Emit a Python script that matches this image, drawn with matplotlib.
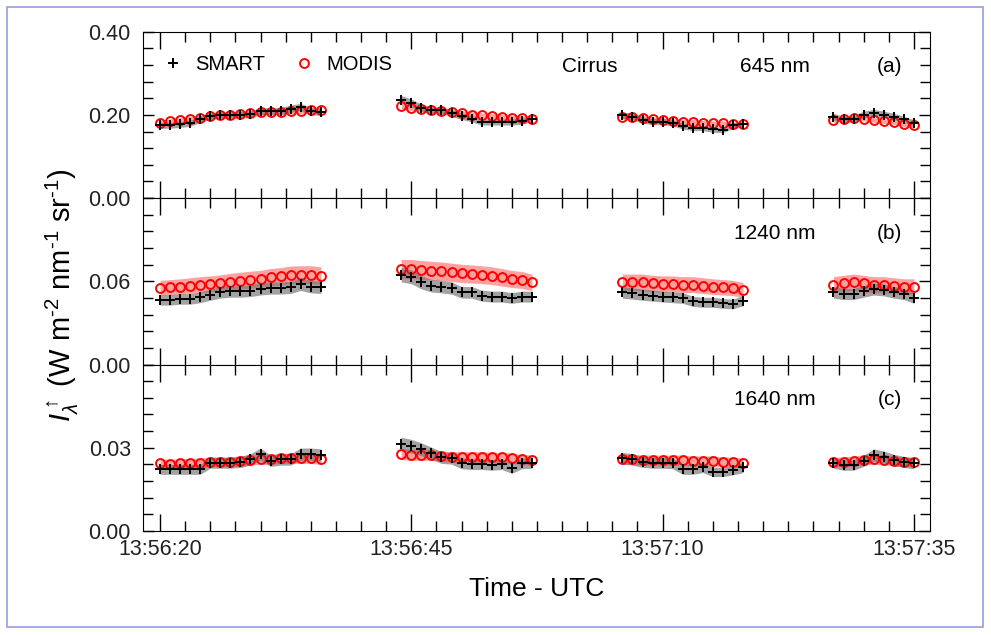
import numpy as np
import matplotlib
matplotlib.use("Agg")
import matplotlib.pyplot as plt
from matplotlib.ticker import MultipleLocator, FuncFormatter
from matplotlib.patches import Rectangle

plt.rcParams['font.family'] = ['Liberation Sans', 'DejaVu Sans']
plt.rcParams['mathtext.fontset'] = 'custom'
plt.rcParams['mathtext.rm'] = 'Liberation Sans'
plt.rcParams['mathtext.it'] = 'Liberation Sans:italic'

# seconds after 13:56:20 UTC, 1 Hz samples in four legs
seg_start = [0, 24, 46, 67]
seg_end = [16, 37, 58, 75]
tick_labels = ['13:56:20', '13:56:45', '13:57:10', '13:57:35']

# 645 nm
smart_a = [
    [0.175, 0.175, 0.177, 0.180, 0.189, 0.197, 0.200, 0.200, 0.200, 0.202, 0.209, 0.209, 0.209, 0.215, 0.219, 0.209, 0.207],
    [0.237, 0.229, 0.217, 0.211, 0.211, 0.205, 0.197, 0.191, 0.183, 0.183, 0.183, 0.183, 0.185, 0.191],
    [0.199, 0.196, 0.188, 0.184, 0.184, 0.181, 0.173, 0.169, 0.169, 0.165, 0.164, 0.175, 0.177],
    [0.196, 0.189, 0.191, 0.201, 0.205, 0.201, 0.196, 0.189, 0.181],
]
modis_a = [
    [0.181, 0.185, 0.188, 0.191, 0.193, 0.197, 0.200, 0.201, 0.203, 0.204, 0.207, 0.208, 0.208, 0.209, 0.209, 0.212, 0.212],
    [0.221, 0.217, 0.215, 0.212, 0.209, 0.207, 0.204, 0.201, 0.199, 0.197, 0.196, 0.193, 0.193, 0.191],
    [0.196, 0.196, 0.193, 0.189, 0.188, 0.185, 0.183, 0.183, 0.181, 0.180, 0.180, 0.177, 0.177],
    [0.188, 0.191, 0.193, 0.191, 0.188, 0.185, 0.183, 0.177, 0.175],
]
# 1240 nm
smart_b = [
    [0.0466, 0.0466, 0.0473, 0.0473, 0.0485, 0.0504, 0.0521, 0.0528, 0.0528, 0.0533, 0.0545, 0.0552, 0.0552, 0.0557, 0.0581, 0.0562, 0.0557],
    [0.0648, 0.0634, 0.0593, 0.0569, 0.0562, 0.0552, 0.0521, 0.0521, 0.0497, 0.0490, 0.0490, 0.0480, 0.0490, 0.0490],
    [0.0521, 0.0513, 0.0504, 0.0497, 0.0490, 0.0485, 0.0480, 0.0456, 0.0449, 0.0449, 0.0441, 0.0437, 0.0461],
    [0.0521, 0.0509, 0.0509, 0.0528, 0.0545, 0.0538, 0.0521, 0.0509, 0.0480],
]
modis_b = [
    [0.0552, 0.0557, 0.0562, 0.0569, 0.0576, 0.0581, 0.0588, 0.0598, 0.0605, 0.0612, 0.0617, 0.0629, 0.0636, 0.0646, 0.0648, 0.0648, 0.0641],
    [0.0689, 0.0689, 0.0682, 0.0677, 0.0672, 0.0665, 0.0657, 0.0653, 0.0648, 0.0641, 0.0629, 0.0617, 0.0610, 0.0593],
    [0.0593, 0.0593, 0.0593, 0.0585, 0.0581, 0.0581, 0.0576, 0.0576, 0.0569, 0.0562, 0.0557, 0.0552, 0.0538],
    [0.0576, 0.0585, 0.0593, 0.0585, 0.0576, 0.0576, 0.0569, 0.0562, 0.0562],
]
# 1640 nm
smart_c = [
    [0.0222, 0.0222, 0.0222, 0.0222, 0.0222, 0.0246, 0.0246, 0.0246, 0.0249, 0.0258, 0.0277, 0.0253, 0.0258, 0.0258, 0.0277, 0.0277, 0.0274],
    [0.0313, 0.0306, 0.0294, 0.0280, 0.0265, 0.0262, 0.0244, 0.0241, 0.0241, 0.0238, 0.0241, 0.0226, 0.0244, 0.0246],
    [0.0262, 0.0258, 0.0249, 0.0246, 0.0246, 0.0244, 0.0222, 0.0222, 0.0229, 0.0213, 0.0213, 0.0220, 0.0229],
    [0.0246, 0.0238, 0.0238, 0.0253, 0.0274, 0.0267, 0.0256, 0.0249, 0.0244],
]
modis_c = [
    [0.0244, 0.0241, 0.0244, 0.0244, 0.0246, 0.0249, 0.0249, 0.0249, 0.0253, 0.0256, 0.0258, 0.0258, 0.0262, 0.0262, 0.0262, 0.0262, 0.0258],
    [0.0277, 0.0274, 0.0274, 0.0274, 0.0270, 0.0267, 0.0267, 0.0267, 0.0267, 0.0265, 0.0265, 0.0262, 0.0258, 0.0256],
    [0.0258, 0.0258, 0.0256, 0.0256, 0.0256, 0.0256, 0.0256, 0.0253, 0.0253, 0.0253, 0.0249, 0.0249, 0.0246],
    [0.0249, 0.0249, 0.0253, 0.0256, 0.0258, 0.0256, 0.0253, 0.0249, 0.0249],
]

# relative uncertainty (fraction) for the shaded bands
smart_unc = [0.04, 0.08, 0.08]
modis_unc = [0.03, 0.10, 0.07]

wavelengths = ['645 nm', '1240 nm', '1640 nm']
panel_tags = ['(a)', '(b)', '(c)']
ylims = [(0, 0.40), (0, 0.12), (0, 0.06)]
yticks = [[0.0, 0.2, 0.4], [0.0, 0.06], [0.0, 0.03]]
ymajor = [0.2, 0.06, 0.03]

panels = [(smart_a, modis_a), (smart_b, modis_b), (smart_c, modis_c)]

fig = plt.figure(figsize=(9.91, 6.35), dpi=100)
left, right = 143.3 / 991, 930 / 991
top, bottom = 1 - 31.7 / 635, 1 - 531 / 635
ph = (top - bottom) / 3

axes = []
for i in range(3):
    ax = fig.add_axes([left, top - (i + 1) * ph, right - left, ph])
    axes.append(ax)
    smart, modis = panels[i]
    for k in range(4):
        t = np.arange(seg_start[k], seg_end[k] + 1)
        s = np.array(smart[k])
        m = np.array(modis[k])
        ax.fill_between(t, m * (1 - modis_unc[i]), m * (1 + modis_unc[i]),
                        color='#ff6f6f', alpha=0.65, lw=0, zorder=1)
        ax.fill_between(t, s * (1 - smart_unc[i]), s * (1 + smart_unc[i]),
                        color='#707070', alpha=0.65, lw=0, zorder=1)
        ax.plot(t, m, 'o', ms=6.4, mfc='none', mec='red', mew=1.4, zorder=3,
                label='MODIS' if k == 0 else None)
        ax.plot(t, s, '+', ms=7.5, color='black', mew=1.4, zorder=4,
                label='SMART' if k == 0 else None)

    ax.set_xlim(-1.66, 76.6)
    ax.set_ylim(*ylims[i])
    ax.set_yticks(yticks[i])
    ax.yaxis.set_minor_locator(MultipleLocator(ymajor[i] / 5))
    ax.yaxis.set_major_formatter(FuncFormatter(lambda v, p: f'{v:.2f}'))
    ax.xaxis.set_major_locator(MultipleLocator(25))
    ax.xaxis.set_minor_locator(MultipleLocator(2.5))
    ax.tick_params(which='both', direction='in', top=True, right=True,
                   labelsize=15.5, labelcolor='#222222', width=1)
    ax.tick_params(axis='x', which='major', length=12, pad=6)
    ax.tick_params(axis='x', which='minor', length=7)
    ax.tick_params(axis='y', which='major', length=8, pad=9)
    ax.tick_params(axis='y', which='minor', length=7)
    if i < 2:
        ax.tick_params(axis='x', labelbottom=False)
    else:
        ax.set_xticks([0, 25, 50, 75])
        ax.set_xticklabels(tick_labels)
    ax.text(0.803, 0.79, wavelengths[i], transform=ax.transAxes,
            ha='center', va='center', fontsize=15)
    ax.text(0.949, 0.79, panel_tags[i], transform=ax.transAxes,
            ha='center', va='center', fontsize=15)

ax0 = axes[0]
handles, labels = ax0.get_legend_handles_labels()
ax0.legend(handles[::-1], labels[::-1], loc='center left', bbox_to_anchor=(0.0, 0.80),
           ncol=2, frameon=False, fontsize=14.5, handlelength=1.1, handletextpad=0.55,
           columnspacing=1.4)
ax0.text(0.568, 0.79, 'Cirrus', transform=ax0.transAxes, ha='center', va='center',
         fontsize=15)

axes[2].set_xlabel('Time - UTC', fontsize=19, labelpad=12)
fig.text(62 / 991, 1 - 295 / 635,
         r'$I_{\lambda}^{\uparrow}$ (W m$^{\text{-2}}$ nm$^{\text{-1}}$ sr$^{\text{-1}}$)',
         rotation=90, ha='center', va='center', fontsize=21)

fig.patches.append(Rectangle((7 / 991, 8 / 635), 976 / 991, 620 / 635,
                             transform=fig.transFigure, fill=False,
                             edgecolor='#9a9ae0', lw=1.2))

fig.savefig('out.png', dpi=100)
